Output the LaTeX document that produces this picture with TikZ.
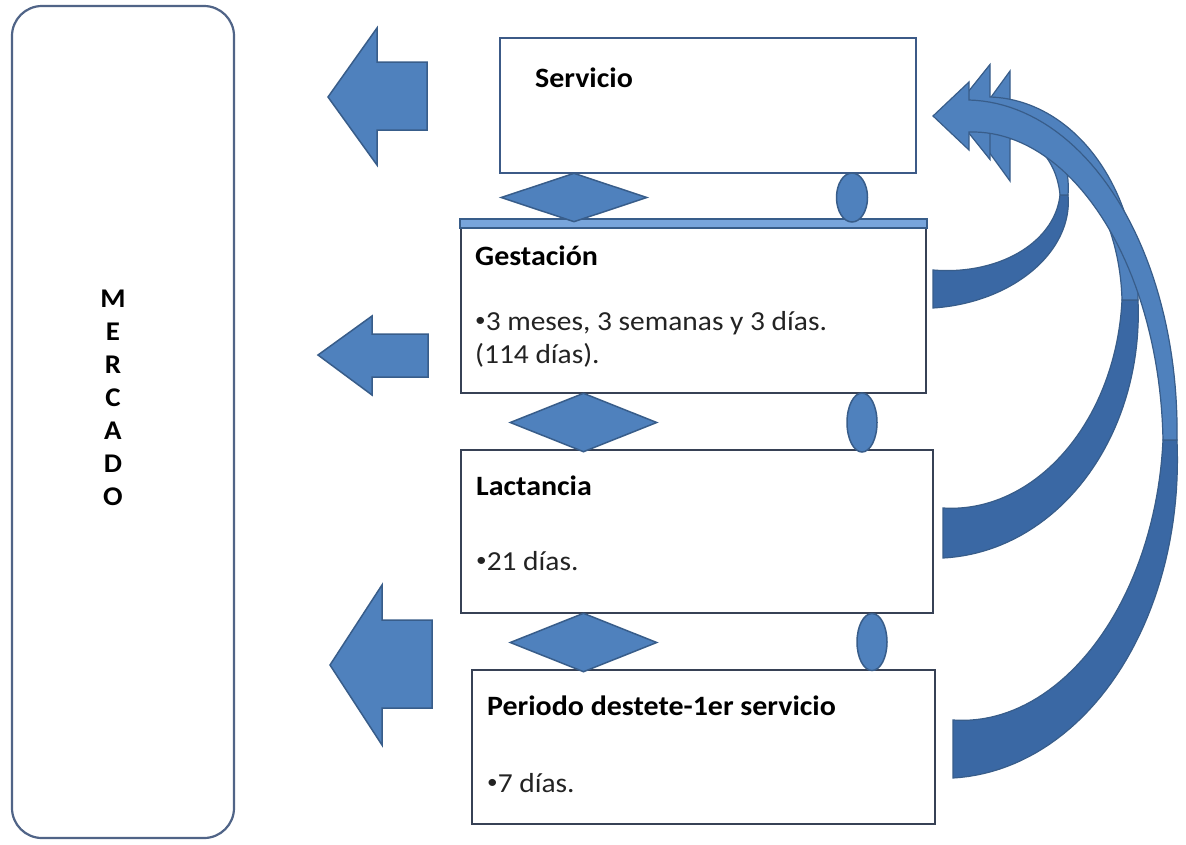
\documentclass[tikz,border=0pt]{standalone}
\usepackage{fontspec}
\setmainfont{Carlito}[FakeStretch=1.07]
\usetikzlibrary{shapes.geometric}
\definecolor{fillblue}{RGB}{79,129,189}
\definecolor{darkblue}{RGB}{58,104,164}
\definecolor{edgeblue}{RGB}{56,93,138}
\definecolor{boxedge}{RGB}{55,65,85}
\definecolor{servedge}{RGB}{60,90,135}
\definecolor{mercedge}{RGB}{80,100,135}
\definecolor{barblue}{RGB}{120,165,220}
\definecolor{txt}{RGB}{35,35,35}
\newcommand{\smbullet}{\raisebox{0.12em}{\scalebox{0.72}{•}}}
\tikzset{
  box/.style={draw=boxedge, line width=2.2, fill=white, inner sep=0},
  mbox/.style={draw=mercedge, line width=2.2, fill=white, inner sep=0, rounded corners=30},
  shp/.style={fill=fillblue, draw=edgeblue, line width=1.5},
  dia/.style={shape=diamond, fill=fillblue, draw=edgeblue, line width=1.5, inner sep=0},
  ell/.style={shape=ellipse, fill=fillblue, draw=edgeblue, line width=1.5, inner sep=0},
  head/.style={anchor=base west, inner sep=0, font=\bfseries\fontsize{28}{30}\selectfont},
  body/.style={anchor=base west, inner sep=0, font=\fontsize{27.5}{30}\selectfont, text=txt}
}
% curved ribbon arrow, parameters given by \def's
\newcommand{\mycurvearrow}{%
  \pgfmathsetmacro{\rxa}{\Rx-\Tx}\pgfmathsetmacro{\rya}{\Ty-\My}%
  \pgfmathsetmacro{\rxb}{\Rx-\Hx}\pgfmathsetmacro{\ryb}{\My-\Hy}%
  \filldraw[fill=darkblue, draw=edgeblue, line width=1.2]
    plot[domain=-90:0, samples=50, variable=\t]
      ({\Tx+(\rxa+(\wa+(\wt-\wa)*(\t+90)/90)/2)*cos(\t)}, {\My-(\rya+(\wa+(\wt-\wa)*(\t+90)/90)/2)*sin(\t)})
    -- plot[domain=0:-90, samples=50, variable=\t]
      ({\Tx+(\rxa-(\wa+(\wt-\wa)*(\t+90)/90)/2)*cos(\t)}, {\My-(\rya-(\wa+(\wt-\wa)*(\t+90)/90)/2)*sin(\t)})
    -- cycle;
  \filldraw[fill=fillblue, draw=edgeblue, line width=1.2]
    plot[domain=0:90, samples=50, variable=\t]
      ({\Hx+(\rxb+(\wt+(\wu-\wt)*\t/90)/2)*cos(\t)}, {\My-(\ryb+(\wt+(\wu-\wt)*\t/90)/2)*sin(\t)})
    -- ({\Hx},{\Hy-\hw/2}) -- ({\Hx-\hl},{\Hy}) -- ({\Hx},{\Hy+\hw/2})
    -- plot[domain=90:0, samples=50, variable=\t]
      ({\Hx+(\rxb-(\wt+(\wu-\wt)*\t/90)/2)*cos(\t)}, {\My-(\ryb-(\wt+(\wu-\wt)*\t/90)/2)*sin(\t)})
    -- cycle;
}
\begin{document}
\begin{tikzpicture}[x=1pt,y=-1pt]
\useasboundingbox (0,0) rectangle (1186,844);
\fill[white] (0,0) rectangle (1186,844);

% Mercado
\node[mbox, minimum width=222, minimum height=832] (mercado) at (123,422) {};
\node[inner sep=0, align=center, font=\bfseries\fontsize{27}{33}\selectfont] (mtext) at (113,398) {M\\E\\R\\C\\A\\D\\O};

% stage boxes
\node[box, draw=servedge, minimum width=416, minimum height=135] (serv) at (708,105.5) {};
\node[box, minimum width=465, minimum height=173] (gest) at (693.5,306.5) {};
\node[box, minimum width=472, minimum height=163] (lact) at (697,531.5) {};
\node[box, minimum width=463, minimum height=154] (peri) at (703.5,747) {};
\draw[edgeblue, line width=1.5, fill=barblue] (gest.north west) rectangle ([yshift=-9pt]gest.north east);

% texts
\node[head] (tserv) at (535,87) {Servicio};
\node[head] (tgest) at (475,265) {Gestación};
\node[body] (tgest1) at (475,330) {\smbullet3 meses, 3 semanas y 3 días.};
\node[body] (tgest2) at (475,363) {(114 días).};
\node[head] (tlact) at (476,495) {Lactancia};
\node[body] (tlact1) at (476,570) {\smbullet21 días.};
\node[head] (tperi) at (487,715) {Periodo destete-1er servicio};
\node[body] (tperi1) at (487,792) {\smbullet7 días.};

% diamonds and ellipses between boxes
\node[dia, minimum width=146, minimum height=49] (d1) at (574,197.5) {};
\node[dia, minimum width=147, minimum height=59] (d2) at (583.5,422.5) {};
\node[dia, minimum width=147, minimum height=59] (d3) at (583.5,642.5) {};
\node[ell, minimum width=31, minimum height=49] (e1) at (852,197.5) {};
\node[ell, minimum width=30, minimum height=59] (e2) at (862,422.5) {};
\node[ell, minimum width=30, minimum height=57] (e3) at (872,642) {};

% left block arrows towards the market
\draw[shp] (427,62) -- (377,62) -- (377,28) -- (328,97) -- (377,165) -- (377,130) -- (427,130) -- cycle;
\draw[shp] (428,334) -- (372,334) -- (372,316) -- (318,355) -- (372,395) -- (372,377) -- (428,377) -- cycle;
\draw[shp] (432,620) -- (382,620) -- (382,585) -- (330,665) -- (382,745) -- (382,708) -- (432,708) -- cycle;

% curved arrows back to Servicio
\def\Tx{933}\def\Ty{289}\def\Rx{1064}\def\My{195}\def\Hx{1010}\def\Hy{126}
\def\wa{38}\def\wt{8}\def\wu{26}\def\hw{110}\def\hl{40}
\mycurvearrow
\def\Tx{943}\def\Ty{533}\def\Rx{1130}\def\My{300}\def\Hx{990}\def\Hy{112}
\def\wa{50}\def\wt{16}\def\wu{30}\def\hw{95}\def\hl{38}
\mycurvearrow
\def\Tx{953}\def\Ty{749}\def\Rx{1170}\def\My{440}\def\Hx{969}\def\Hy{116}
\def\wa{58}\def\wt{14}\def\wu{32}\def\hw{68}\def\hl{36}
\mycurvearrow
\end{tikzpicture}
\end{document}
